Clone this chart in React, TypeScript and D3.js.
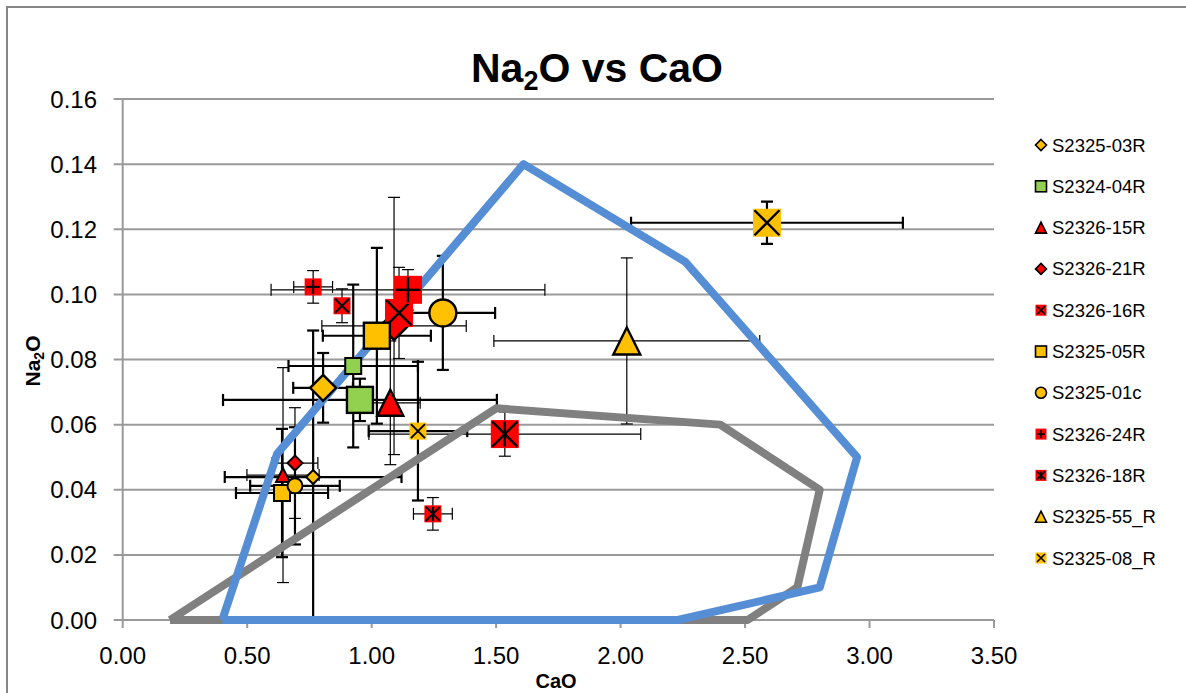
import React from 'react';
import * as d3 from 'd3';

// ---- data ----
const xTicks = [0, 0.5, 1, 1.5, 2, 2.5, 3, 3.5];
const yTicks = [0, 0.02, 0.04, 0.06, 0.08, 0.1, 0.12, 0.14, 0.16];

// each point: CaO, Na2O, error on CaO, error on Na2O
const s2325_03R = [
  { cao: 0.805, na2o: 0.0713, eCao: 0.12, eNa2o: 0.0107 },
  { cao: 0.765, na2o: 0.0439, eCao: 0.355, eNa2o: 0.045 },
];
const s2324_04R = [
  { cao: 0.953, na2o: 0.0676, eCao: 0.55, eNa2o: 0.0065 },
  { cao: 0.926, na2o: 0.078, eCao: 0.26, eNa2o: 0.025 },
];
const s2326_15R = [
  { cao: 1.075, na2o: 0.0667, eCao: 0.12, eNa2o: 0.019 },
  { cao: 0.644, na2o: 0.0445, eCao: 0.145, eNa2o: 0.033 },
];
const s2326_21R = [
  { cao: 1.09, na2o: 0.0903, eCao: 0.29, eNa2o: 0.0395 },
  { cao: 0.692, na2o: 0.0482, eCao: 0.092, eNa2o: 0.017 },
];
const s2326_16R = [
  { cao: 1.11, na2o: 0.0943, eCao: 0.03, eNa2o: 0.014 },
  { cao: 0.881, na2o: 0.0965, eCao: 0.02, eNa2o: 0.0052 },
];
const s2325_05R = [
  { cao: 1.021, na2o: 0.0873, eCao: 0.217, eNa2o: 0.027 },
  { cao: 0.64, na2o: 0.039, eCao: 0.185, eNa2o: 0.0197 },
];
const s2325_01c = [
  { cao: 1.286, na2o: 0.0943, eCao: 0.21, eNa2o: 0.0175 },
  { cao: 0.692, na2o: 0.0412, eCao: 0.18, eNa2o: 0.018 },
];
const s2326_24R = [
  { cao: 1.146, na2o: 0.1014, eCao: 0.55, eNa2o: 0.0062 },
  { cao: 0.765, na2o: 0.1023, eCao: 0.078, eNa2o: 0.005 },
];
const s2326_18R = [
  { cao: 1.535, na2o: 0.0571, eCao: 0.546, eNa2o: 0.0068 },
  { cao: 1.246, na2o: 0.0326, eCao: 0.078, eNa2o: 0.005 },
];
const s2325_55R = [
  { cao: 2.025, na2o: 0.0857, eCao: 0.534, eNa2o: 0.0255 },
];
const s2325_08R = [
  { cao: 2.588, na2o: 0.122, eCao: 0.546, eNa2o: 0.0065 },
  { cao: 1.186, na2o: 0.058, eCao: 0.198, eNa2o: 0.0213 },
];

// field outlines
const blueField = [
  [0.4, 0], [0.62, 0.051], [1.61, 0.14], [2.26, 0.11], [2.95, 0.05], [2.8, 0.01], [2.23, 0], [0.4, 0],
];
const grayField = [
  [0.19, 0], [1.5, 0.065], [2.4, 0.06], [2.8, 0.04], [2.71, 0.01], [2.51, 0], [0.19, 0],
];

// ---- styles ----
const GOLD = '#FFC000';
const GREEN = '#92D050';
const RED = '#FF0000';
const FONT = "'Liberation Sans', Arial, sans-serif";

const series = [
  { name: 'S2325-03R', data: s2325_03R, shape: 'diamond', fill: GOLD, sizes: [26, 14], bar: 2.2 },
  { name: 'S2324-04R', data: s2324_04R, shape: 'square', fill: GREEN, sizes: [26, 16], bar: 2.2 },
  { name: 'S2326-15R', data: s2326_15R, shape: 'triangle', fill: RED, sizes: [26, 14], bar: 1.2 },
  { name: 'S2326-21R', data: s2326_21R, shape: 'diamond', fill: RED, sizes: [28, 15], bar: 1.2 },
  { name: 'S2326-16R', data: s2326_16R, shape: 'xsq', fill: RED, sizes: [28, 17], bar: 1.2 },
  { name: 'S2325-05R', data: s2325_05R, shape: 'square', fill: GOLD, sizes: [26, 16], bar: 2.2 },
  { name: 'S2325-01c', data: s2325_01c, shape: 'circle', fill: GOLD, sizes: [27, 15], bar: 2.2 },
  { name: 'S2326-24R', data: s2326_24R, shape: 'plussq', fill: RED, sizes: [28, 17], bar: 1.2 },
  { name: 'S2326-18R', data: s2326_18R, shape: 'astsq', fill: RED, sizes: [28, 17], bar: 1.2 },
  { name: 'S2325-55_R', data: s2325_55R, shape: 'triangle', fill: GOLD, sizes: [27], bar: 1.2 },
  { name: 'S2325-08_R', data: s2325_08R, shape: 'xsq', fill: GOLD, sizes: [28, 17], bar: 2.2 },
];

const W = 1186;
const H = 693;
const plot = { left: 122.7, right: 994, top: 99, bottom: 620 };

const x = d3.scaleLinear().domain([0, 3.5]).range([plot.left, plot.right]);
const y = d3.scaleLinear().domain([0, 0.16]).range([plot.bottom, plot.top]);

function Marker({ shape, fill, size, cx, cy, sw }: any) {
  const h = size / 2;
  const glyph = { stroke: '#000', strokeWidth: sw };
  switch (shape) {
    case 'diamond':
      return (
        <polygon
          points={`${cx},${cy - h} ${cx + h},${cy} ${cx},${cy + h} ${cx - h},${cy}`}
          fill={fill} stroke="#000" strokeWidth={sw}
        />
      );
    case 'square':
      return <rect x={cx - h} y={cy - h} width={size} height={size} fill={fill} stroke="#000" strokeWidth={sw} />;
    case 'triangle':
      return (
        <polygon
          points={`${cx},${cy - h} ${cx + h},${cy + h} ${cx - h},${cy + h}`}
          fill={fill} stroke="#000" strokeWidth={sw}
        />
      );
    case 'circle':
      return <circle cx={cx} cy={cy} r={h} fill={fill} stroke="#000" strokeWidth={sw} />;
    default: {
      const i = h - 1.5;
      return (
        <g>
          <rect x={cx - h} y={cy - h} width={size} height={size} fill={fill} />
          {(shape === 'xsq' || shape === 'astsq') && (
            <>
              <line x1={cx - i} y1={cy - i} x2={cx + i} y2={cy + i} {...glyph} />
              <line x1={cx - i} y1={cy + i} x2={cx + i} y2={cy - i} {...glyph} />
            </>
          )}
          {shape === 'plussq' && <line x1={cx - i} y1={cy} x2={cx + i} y2={cy} {...glyph} />}
          {(shape === 'plussq' || shape === 'astsq') && (
            <line x1={cx} y1={cy - i} x2={cx} y2={cy + i} {...glyph} />
          )}
        </g>
      );
    }
  }
}

function ErrorBars({ d, bar }: any) {
  const cx = x(d.cao);
  const cy = y(d.na2o);
  const x0 = x(d.cao - d.eCao);
  const x1 = x(d.cao + d.eCao);
  const y0 = y(d.na2o - d.eNa2o);
  const y1 = y(d.na2o + d.eNa2o);
  const cap = 6;
  const st = { stroke: '#000', strokeWidth: bar };
  return (
    <g>
      <line x1={x0} y1={cy} x2={x1} y2={cy} {...st} />
      <line x1={x0} y1={cy - cap} x2={x0} y2={cy + cap} {...st} />
      <line x1={x1} y1={cy - cap} x2={x1} y2={cy + cap} {...st} />
      <line x1={cx} y1={y0} x2={cx} y2={y1} {...st} />
      <line x1={cx - cap} y1={y0} x2={cx + cap} y2={y0} {...st} />
      <line x1={cx - cap} y1={y1} x2={cx + cap} y2={y1} {...st} />
    </g>
  );
}

export default function App() {
  const line = d3.line<number[]>().x(p => x(p[0])).y(p => y(p[1]));
  const gridColor = '#9A9A9A';

  return (
    <svg width={W} height={H} style={{ position: 'absolute', left: 0, top: 0, background: '#fff' }}>
      <defs>
        <clipPath id="plotClip">
          <rect x={plot.left} y={plot.top - 2} width={plot.right - plot.left + 60} height={plot.bottom - plot.top + 2} />
        </clipPath>
      </defs>
      <rect x={0} y={0} width={W} height={H} fill="#fff" />
      {/* chart frame */}
      <rect x={7} y={7} width={1200} height={720} fill="none" stroke="#868686" strokeWidth={2} />

      {/* title */}
      <text x={597} y={82} textAnchor="middle" fontFamily={FONT} fontWeight="bold" fontSize={41}>
        Na<tspan fontSize={27} dy={8}>2</tspan><tspan dy={-8}>O vs CaO</tspan>
      </text>

      {/* gridlines + y ticks */}
      {yTicks.map(t => (
        <g key={t}>
          <line x1={plot.left - 9} x2={plot.right} y1={y(t)} y2={y(t)} stroke={gridColor} strokeWidth={2} />
          <text x={97} y={y(t) + 8.5} textAnchor="end" fontFamily={FONT} fontSize={24}>
            {t.toFixed(2)}
          </text>
        </g>
      ))}
      {/* y axis */}
      <line x1={plot.left} x2={plot.left} y1={plot.top} y2={plot.bottom} stroke={gridColor} strokeWidth={2} />
      {/* x ticks */}
      {xTicks.map(t => (
        <g key={t}>
          <line x1={x(t)} x2={x(t)} y1={plot.bottom} y2={plot.bottom + 8} stroke={gridColor} strokeWidth={2} />
          <text x={x(t)} y={664} textAnchor="middle" fontFamily={FONT} fontSize={24}>
            {t.toFixed(2)}
          </text>
        </g>
      ))}

      {/* axis titles */}
      <text x={556} y={688} textAnchor="middle" fontFamily={FONT} fontWeight="bold" fontSize={20}>CaO</text>
      <text transform="translate(40,361) rotate(-90)" textAnchor="middle" fontFamily={FONT} fontWeight="bold" fontSize={21}>
        Na<tspan fontSize={14} dy={4}>2</tspan><tspan dy={-4}>O</tspan>
      </text>

      {/* error bars */}
      <g clipPath="url(#plotClip)">
        {series.map(s => s.data.map((d, i) => <ErrorBars key={s.name + i} d={d} bar={s.bar} />))}
      </g>

      {/* field outlines */}
      <path d={line(grayField) || ''} fill="none" stroke="#808080" strokeWidth={8} strokeLinejoin="round" />
      <path d={line(blueField) || ''} fill="none" stroke="#558ED5" strokeWidth={8} strokeLinejoin="round" />

      {/* markers */}
      {series.map(s =>
        s.data.map((d, i) => (
          <Marker
            key={s.name + i}
            shape={s.shape}
            fill={s.fill}
            size={s.sizes[i]}
            cx={x(d.cao)}
            cy={y(d.na2o)}
            sw={s.sizes[i] > 20 ? 2.4 : 2}
          />
        ))
      )}

      {/* legend */}
      {series.map((s, i) => {
        const ly = 145 + i * 41.3;
        return (
          <g key={s.name}>
            <Marker shape={s.shape} fill={s.fill} size={11} cx={1041} cy={ly} sw={1.6} />
            <text x={1052} y={ly + 6.5} fontFamily={FONT} fontSize={18.5}>{s.name}</text>
          </g>
        );
      })}
    </svg>
  );
}
